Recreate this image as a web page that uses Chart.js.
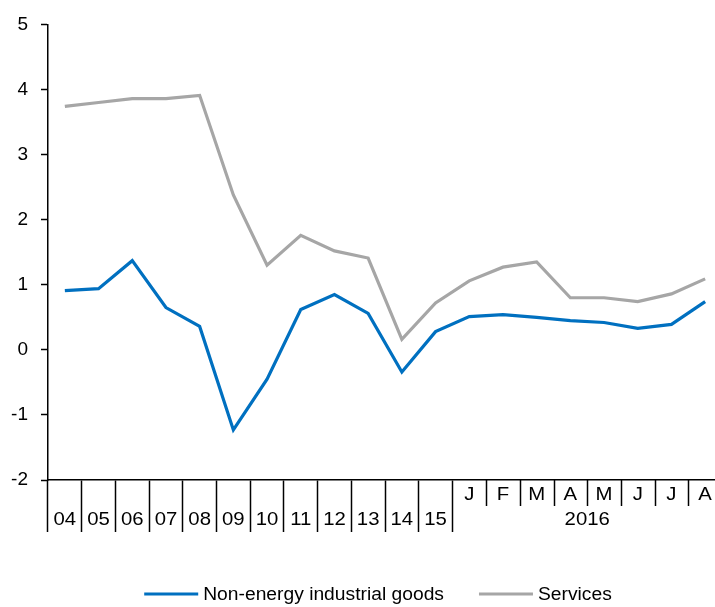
<!DOCTYPE html>
<html>
<head>
<meta charset="utf-8">
<script src="https://cdn.jsdelivr.net/npm/chart.js@4.4.0/dist/chart.umd.min.js"></script>
<style>
  html, body { margin: 0; padding: 0; background: #fff; overflow: hidden; }
  #wrap { width: 715px; height: 607px; overflow: hidden; position: relative; }
  #box { width: 756px; height: 607px; position: absolute; left: 0; top: 0; }
</style>
</head>
<body>
<div id="wrap"><div id="box"><canvas id="chartInflation"></canvas></div></div>
<script>
// x categories: years 2004-2015, then months of 2016
const years = ['04', '05', '06', '07', '08', '09', '10', '11', '12', '13', '14', '15'];
const months = ['J', 'F', 'M', 'A', 'M', 'J', 'J', 'A'];
const monthsYear = '2016';

const nonEnergyGoods = [0.91, 0.94, 1.37, 0.65, 0.36, -1.23, -0.45, 0.62, 0.85, 0.56, -0.34, 0.28,
    0.51, 0.54, 0.50, 0.45, 0.42, 0.33, 0.39, 0.74];
const services = [3.74, 3.80, 3.86, 3.86, 3.91, 2.38, 1.30, 1.76, 1.52, 1.41, 0.16, 0.72,
    1.06, 1.27, 1.35, 0.80, 0.80, 0.74, 0.86, 1.09];

const yMin = -2;
const yMax = 5;

const labels = years.concat(months);
const FAMILY = "'Liberation Sans', Arial, sans-serif";
const STRETCH = 1.1; // text in the original is a bit wider than plain Arial

Chart.defaults.font.family = FAMILY;
Chart.defaults.color = '#000';

// draw text slightly stretched horizontally, like the source image
function wideText(ctx, text, x, y, align) {
    ctx.save();
    ctx.translate(x, y);
    ctx.scale(STRETCH, 1);
    ctx.textAlign = align;
    ctx.fillText(text, 0, 0);
    ctx.restore();
}

// category labels, short month separators, the "2016" label and the legend
const axisLegendPlugin = {
    id: 'axisLegend',
    afterDraw(chart) {
        const ctx = chart.ctx;
        const x = chart.scales.x;
        const first = years.length;
        const half = (x.getPixelForValue(1) - x.getPixelForValue(0)) / 2;
        const top = chart.chartArea.bottom;
        ctx.save();
        ctx.strokeStyle = '#000';
        ctx.lineWidth = 1.5;
        for (let i = first + 1; i < labels.length; i++) {
            const px = Math.round(x.getPixelForValue(i) - half) + 0.5;
            ctx.beginPath();
            ctx.moveTo(px, top);
            ctx.lineTo(px, top + 26);
            ctx.stroke();
        }
        ctx.fillStyle = '#000';
        ctx.font = '18.5px ' + FAMILY;
        ctx.textBaseline = 'middle';
        labels.forEach((lab, i) => {
            const ly = i < first ? top + 40 : top + 15;
            wideText(ctx, lab, x.getPixelForValue(i), ly, 'center');
        });
        const left = x.getPixelForValue(first) - half;
        const right = x.getPixelForValue(labels.length - 1) + half;
        wideText(ctx, monthsYear, (left + right) / 2, top + 40, 'center');

        // legend
        ctx.font = '17.5px ' + FAMILY;
        const lineLen = 54, gap = 5, spacing = 35, ly = 594;
        const sets = chart.data.datasets;
        const widths = sets.map(d => lineLen + gap + ctx.measureText(d.label).width * STRETCH);
        const total = widths.reduce((a, b) => a + b, 0) + spacing * (sets.length - 1);
        let lx = chart.width / 2 - total / 2;
        sets.forEach((d, i) => {
            ctx.strokeStyle = d.borderColor;
            ctx.lineWidth = d.borderWidth;
            ctx.beginPath();
            ctx.moveTo(lx, ly);
            ctx.lineTo(lx + lineLen, ly);
            ctx.stroke();
            wideText(ctx, d.label, lx + lineLen + gap, ly + 1, 'left');
            lx += widths[i] + spacing;
        });
        ctx.restore();
    }
};

new Chart('chartInflation', {
    type: 'line',
    data: {
        labels: labels,
        datasets: [{
            label: 'Non-energy industrial goods',
            data: nonEnergyGoods,
            borderColor: '#0070C0',
            borderWidth: 3.2,
            pointRadius: 0,
            tension: 0
        }, {
            label: 'Services',
            data: services,
            borderColor: '#A6A6A6',
            borderWidth: 3.2,
            pointRadius: 0,
            tension: 0
        }]
    },
    options: {
        responsive: true,
        maintainAspectRatio: false,
        animation: false,
        layout: {
            padding: { top: 5.5, left: 10, right: 34, bottom: 75 }
        },
        scales: {
            x: {
                offset: true,
                grid: {
                    offset: true,
                    drawOnChartArea: false,
                    tickLength: 52,
                    tickWidth: 1.5,
                    tickColor: ctx => (ctx.index > years.length ? 'rgba(0,0,0,0)' : '#000')
                },
                border: { color: '#000', width: 1.5 },
                ticks: { display: false, autoSkip: false }
            },
            y: {
                min: yMin,
                max: yMax,
                afterFit: scale => { scale.width = 38; },
                grid: {
                    drawOnChartArea: false,
                    tickLength: 7,
                    tickWidth: 1.5,
                    tickColor: '#000'
                },
                border: { color: '#000', width: 1.5 },
                ticks: {
                    stepSize: 1,
                    padding: 13,
                    font: { size: 19 }
                }
            }
        },
        plugins: {
            legend: { display: false },
            tooltip: { enabled: false }
        }
    },
    plugins: [axisLegendPlugin]
});
</script>
</body>
</html>
